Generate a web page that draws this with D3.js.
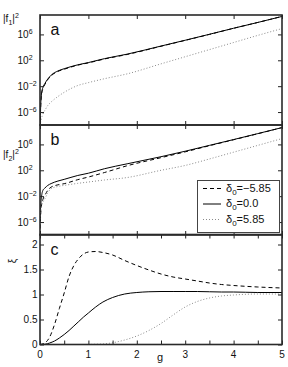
<!DOCTYPE html>
<html>
<head>
<meta charset="utf-8">
<script src="https://cdn.jsdelivr.net/npm/d3@7"></script>
<style>
  body { margin: 0; background: #fff; }
  svg { display: block; font-family: "Liberation Sans", Arial, sans-serif; }
</style>
</head>
<body>
<div id="chart"></div>
<script>
// g values for the two log panels
const gLog = [0.003, 0.01, 0.03, 0.06, 0.1, 0.16, 0.23, 0.37, 0.5, 0.78, 1.0, 1.33, 1.8, 2.5, 3.0, 3.5, 4.0, 4.5, 5.0];

// log10 of |f1|^2 for each detuning
const f1Neg  = [-8.5, -6.2, -3.4, -2.4, -1.75, -1.0, -0.4, 0.28, 0.62, 1.25, 1.6, 2.2, 2.9, 4.17, 5.08, 6.0, 6.95, 7.85, 8.78];
const f1Zero = [-8.5, -6.0, -3.2, -2.2, -1.6, -0.9, -0.3, 0.35, 0.7, 1.3, 1.65, 2.25, 2.95, 4.2, 5.1, 6.02, 6.95, 7.85, 8.78];
const f1Pos  = [-9.5, -7.8, -7.0, -6.3, -5.75, -5.0, -4.45, -3.6, -2.95, -1.9, -1.45, -0.85, -0.1, 1.45, 2.55, 3.65, 4.75, 5.85, 6.9];

// log10 of |f2|^2
const f2Neg  = [-7.0, -5.5, -3.5, -2.5, -1.9, -1.1, -0.6, -0.25, -0.07, 0.55, 0.96, 1.65, 2.7, 3.95, 4.85, 5.8, 6.72, 7.65, 8.6];
const f2Zero = [-6.0, -4.2, -2.2, -1.1, -0.75, -0.34, -0.05, 0.34, 0.6, 1.2, 1.55, 2.24, 3.0, 4.1, 4.95, 5.85, 6.75, 7.67, 8.6];
const f2Pos  = [-6.5, -4.7, -3.5, -2.9, -2.4, -1.5, -0.85, -0.5, -0.33, -0.02, 0.19, 0.5, 0.88, 2.0, 2.75, 3.75, 4.8, 5.85, 6.9];

// panel c
const gLin = [0, 0.1, 0.2, 0.3, 0.4, 0.5, 0.6, 0.7, 0.8, 0.9, 1.0, 1.15, 1.3, 1.5, 1.75, 2.0, 2.25, 2.5, 2.75, 3.0, 3.25, 3.5, 3.75, 4.0, 4.5, 5.0];
const xiNeg  = [0, 0.03, 0.15, 0.4, 0.72, 1.03, 1.36, 1.58, 1.72, 1.81, 1.85, 1.86, 1.84, 1.79, 1.68, 1.58, 1.49, 1.41, 1.35, 1.31, 1.27, 1.23, 1.2, 1.18, 1.15, 1.13];
const xiZero = [0, 0.005, 0.03, 0.07, 0.13, 0.2, 0.28, 0.37, 0.46, 0.55, 0.63, 0.75, 0.85, 0.94, 1.01, 1.04, 1.055, 1.06, 1.06, 1.06, 1.06, 1.055, 1.05, 1.05, 1.04, 1.04];
const xiPos  = [0, 0, 0, 0, 0, 0, 0, 0, 0, 0, 0.001, 0.005, 0.01, 0.035, 0.09, 0.17, 0.28, 0.42, 0.59, 0.75, 0.86, 0.93, 0.97, 0.99, 1.01, 1.01];

const deltaLabels = ["\u22125.85", "0.0", "5.85"];
const logTicks = [-6, -2, 2, 6];
const linTicks = [0, 0.5, 1, 1.5, 2];

const width = 288, height = 367;
const left = 40, right = 282;
const panelTop = [15, 125, 234.5];
const panelH = 110;

const styles = [
  { stroke: "#000", dash: "4,3", w: 1 },
  { stroke: "#000", dash: null, w: 1 },
  { stroke: "#8a8a8a", dash: "1,2", w: 1 }
];

const svg = d3.select("#chart").append("svg")
  .attr("width", width)
  .attr("height", height);

const x = d3.scaleLinear().domain([0, 5]).range([left, right]);

function drawPanel(i, y, gs, series, label) {
  const top = panelTop[i], bottom = top + panelH;
  const g = svg.append("g");

  g.append("defs").append("clipPath")
    .attr("id", "clip" + i)
    .append("rect")
    .attr("x", left).attr("y", top)
    .attr("width", right - left).attr("height", panelH);

  const line = d3.line()
    .x(d => x(d[0]))
    .y(d => y(d[1]))
    .curve(d3.curveMonotoneX);

  const plot = g.append("g").attr("clip-path", `url(#clip${i})`);
  series.forEach((vals, k) => {
    plot.append("path")
      .datum(gs.map((gv, j) => [gv, vals[j]]))
      .attr("d", line)
      .attr("fill", "none")
      .attr("stroke", styles[k].stroke)
      .attr("stroke-width", styles[k].w)
      .attr("stroke-dasharray", styles[k].dash);
  });

  // inward ticks on all four sides
  const xt = i === 2 ? d3.range(0, 5.01, 0.5) : [0, 1, 2, 3, 4, 5];
  g.append("g").attr("transform", `translate(0,${bottom})`)
    .call(d3.axisBottom(x).tickValues(xt).tickSize(-4).tickFormat(""));
  g.append("g").attr("transform", `translate(0,${top})`)
    .call(d3.axisTop(x).tickValues(xt).tickSize(-4).tickFormat(""));
  const yt = i === 2 ? linTicks : logTicks;
  g.append("g").attr("transform", `translate(${left},0)`)
    .call(d3.axisLeft(y).tickValues(yt).tickSize(-4).tickFormat(""));
  g.append("g").attr("transform", `translate(${right},0)`)
    .call(d3.axisRight(y).tickValues(yt).tickSize(-4).tickFormat(""));
  g.selectAll(".domain").remove();
  g.selectAll(".tick line").attr("stroke", "#222");

  // frame
  g.append("rect")
    .attr("x", left).attr("y", top)
    .attr("width", right - left).attr("height", panelH)
    .attr("fill", "none")
    .attr("stroke", "#2a2a2a")
    .attr("stroke-width", 1.6);

  // tick labels
  if (i < 2) {
    yt.forEach(e => {
      const t = g.append("text")
        .attr("x", 17.5).attr("y", y(e) + 3.5)
        .attr("font-size", 10).attr("fill", "#111");
      t.append("tspan").text("10");
      t.append("tspan").attr("dy", -4).attr("font-size", 7).text(e < 0 ? "\u2212" + (-e) : e);
    });
  } else {
    yt.forEach(v => {
      g.append("text")
        .attr("x", 37.5).attr("y", y(v) + 3.5)
        .attr("text-anchor", "end")
        .attr("font-size", 10).attr("fill", "#111")
        .text(v);
    });
    [0, 1, 2, 3, 4, 5].forEach(v => {
      g.append("text")
        .attr("x", x(v)).attr("y", bottom + 13)
        .attr("text-anchor", "middle")
        .attr("font-size", 10).attr("fill", "#111")
        .text(v);
    });
  }

  g.append("text")
    .attr("x", 50.5).attr("y", top + 20)
    .attr("font-size", 16).attr("fill", "#111")
    .text(label);
}

// panel a
const yA = d3.scaleLinear().domain([-8, 9]).range([panelTop[0] + panelH, panelTop[0]]);
drawPanel(0, yA, gLog, [f1Neg, f1Zero, f1Pos], "a");

// panel b
const yB = d3.scaleLinear().domain([-8, 9]).range([panelTop[1] + panelH, panelTop[1]]);
drawPanel(1, yB, gLog, [f2Neg, f2Zero, f2Pos], "b");

// panel c
const yC = d3.scaleLinear().domain([0, 2.2]).range([panelTop[2] + panelH, panelTop[2]]);
drawPanel(2, yC, gLin, [xiNeg, xiZero, xiPos], "c");

// axis titles
function fLabel(yPos, n) {
  const t = svg.append("text").attr("x", 3).attr("y", yPos)
    .attr("font-size", 10).attr("fill", "#111");
  t.append("tspan").text("|f");
  t.append("tspan").attr("dy", 2.5).attr("font-size", 7).text(n);
  t.append("tspan").attr("dy", -2.5).text("|");
  t.append("tspan").attr("dy", -4).attr("font-size", 7).text("2");
}
fLabel(22, 1);
fLabel(158, 2);

svg.append("text")
  .attr("transform", "translate(16,261) rotate(-90)")
  .attr("text-anchor", "middle")
  .attr("font-size", 10).attr("fill", "#111")
  .text("\u03be");

svg.append("text")
  .attr("x", 160).attr("y", 361)
  .attr("text-anchor", "middle")
  .attr("font-size", 11).attr("fill", "#111")
  .text("g");

// legend
const legend = svg.append("g");
legend.append("rect")
  .attr("x", 197.5).attr("y", 180.5)
  .attr("width", 82).attr("height", 52)
  .attr("fill", "#fff")
  .attr("stroke", "#444")
  .attr("stroke-width", 1);

deltaLabels.forEach((lab, k) => {
  const ly = 188.5 + k * 15.5;
  legend.append("line")
    .attr("x1", 203).attr("x2", 221)
    .attr("y1", ly).attr("y2", ly)
    .attr("stroke", styles[k].stroke)
    .attr("stroke-width", styles[k].w)
    .attr("stroke-dasharray", styles[k].dash);
  const t = legend.append("text")
    .attr("x", 226).attr("y", ly + 3)
    .attr("font-size", 11).attr("fill", "#111");
  t.append("tspan").text("\u03b4");
  t.append("tspan").attr("dy", 3).attr("font-size", 8).text("0");
  t.append("tspan").attr("dy", -3).text("=" + lab);
});
</script>
</body>
</html>
